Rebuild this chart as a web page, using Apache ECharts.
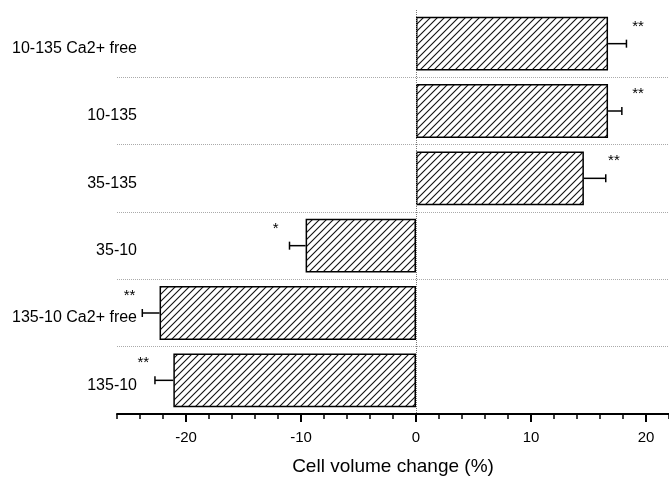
<!DOCTYPE html>
<html>
<head>
<meta charset="utf-8">
<script src="https://cdn.jsdelivr.net/npm/echarts@6/dist/echarts.min.js"></script>
<style>
  html, body { margin: 0; padding: 0; background: #fff; }
  #chart { width: 669px; height: 478px; }
</style>
</head>
<body>
<div id="chart"></div>
<script>
// top to bottom, as in the figure
var categories = ['10-135 Ca2+ free', '10-135', '35-135', '35-10', '135-10 Ca2+ free', '135-10'];
var meanChange = [16.7, 16.7, 14.6, -9.6, -22.3, -21.1];
var semChange = [1.6, 1.2, 1.9, 1.4, 1.5, 1.6];
var significance = ['**', '**', '**', '*', '**', '**'];
var majorTicks = [-20, -10, 0, 10, 20];
var minorTicks = [-26, -24, -22, -20, -18, -16, -14, -12, -10, -8, -6, -4, -2, 0, 2, 4, 6, 8, 10, 12, 14, 16, 18, 20, 22];

var FONT = '"Liberation Sans", Arial, Helvetica, sans-serif';

// diagonal hatch fill for the bars
function hatch() {
  var c = document.createElement('canvas');
  c.width = 7; c.height = 7;
  var g = c.getContext('2d');
  g.fillStyle = '#fff';
  g.fillRect(0, 0, 7, 7);
  g.strokeStyle = '#111';
  g.lineWidth = 1.1;
  g.beginPath();
  g.moveTo(0, 7); g.lineTo(7, 0);
  g.moveTo(-1, 1); g.lineTo(1, -1);
  g.moveTo(6, 8); g.lineTo(8, 6);
  g.stroke();
  return c;
}

var errData = [];
for (var i = 0; i < categories.length; i++) {
  var dir = meanChange[i] >= 0 ? 1 : -1;
  errData.push([i, meanChange[i], meanChange[i] + dir * semChange[i]]);
}

var myChart = echarts.init(document.getElementById('chart'));
var option = {
  animation: false,
  textStyle: { fontFamily: FONT },
  grid: { left: 117, right: 0, top: 10, bottom: 64, containLabel: false, outerBoundsMode: 'none' },
  xAxis: [
    {
      type: 'value',
      min: -26,
      max: 22,
      position: 'bottom',
      axisLine: { show: true, lineStyle: { color: '#000', width: 2 } },
      axisTick: { show: true, customValues: minorTicks, length: 5, lineStyle: { color: '#000', width: 1.5 } },
      axisLabel: { customValues: majorTicks, color: '#000', fontSize: 15, margin: 16, fontFamily: FONT },
      splitLine: { show: false },
      name: 'Cell volume change (%)',
      nameLocation: 'middle',
      nameGap: 43,
      nameTextStyle: { color: '#000', fontSize: 19, fontFamily: FONT }
    },
    {
      type: 'value',
      min: -26,
      max: 22,
      position: 'bottom',
      axisLine: { show: false },
      axisTick: { show: true, customValues: majorTicks, length: 8, lineStyle: { color: '#000', width: 2 } },
      axisLabel: { show: false },
      splitLine: { show: false }
    }
  ],
  yAxis: {
    type: 'category',
    data: categories,
    inverse: true,
    axisLine: { show: false, onZero: false },
    axisTick: { show: false },
    axisLabel: {
      color: '#000',
      margin: -20,
      formatter: '{a|{value}}',
      rich: { a: { fontSize: 16, color: '#000', fontFamily: FONT, padding: [10, 0, 0, 0] } }
    },
    splitLine: {
      show: true,
      interval: function (idx) { return idx > 0; },
      lineStyle: { type: 'dotted', color: '#aaa', width: 1 }
    }
  },
  series: [
    {
      type: 'bar',
      data: meanChange,
      barCategoryGap: '20%',
      itemStyle: {
        color: { image: hatch(), repeat: 'repeat' },
        borderColor: '#000',
        borderWidth: 1.5
      },
      markLine: {
        silent: true,
        symbol: 'none',
        label: { show: false },
        lineStyle: { type: 'dotted', color: '#777', width: 1 },
        data: [{ xAxis: 0 }]
      }
    },
    {
      type: 'custom',
      data: errData,
      encode: { x: [1, 2], y: 0 },
      renderItem: function (params, api) {
        var idx = api.value(0);
        var m = api.value(1);
        var e = api.value(2);
        var p0 = api.coord([m, idx]);
        var p1 = api.coord([e, idx]);
        var d = m >= 0 ? 1 : -1;
        return {
          type: 'group',
          children: [
            { type: 'line', shape: { x1: p0[0], y1: p0[1], x2: p1[0], y2: p1[1] }, style: { stroke: '#000', lineWidth: 1.5 } },
            { type: 'line', shape: { x1: p1[0], y1: p1[1] - 4, x2: p1[0], y2: p1[1] + 4 }, style: { stroke: '#000', lineWidth: 1.5 } },
            {
              type: 'text',
              x: p0[0] + d * 30,
              y: p0[1] - 17,
              style: { text: significance[idx], fill: '#000', fontSize: 15, fontFamily: FONT, align: 'center', verticalAlign: 'middle' }
            }
          ]
        };
      },
      z: 3
    }
  ]
};
myChart.setOption(option);
</script>
</body>
</html>
